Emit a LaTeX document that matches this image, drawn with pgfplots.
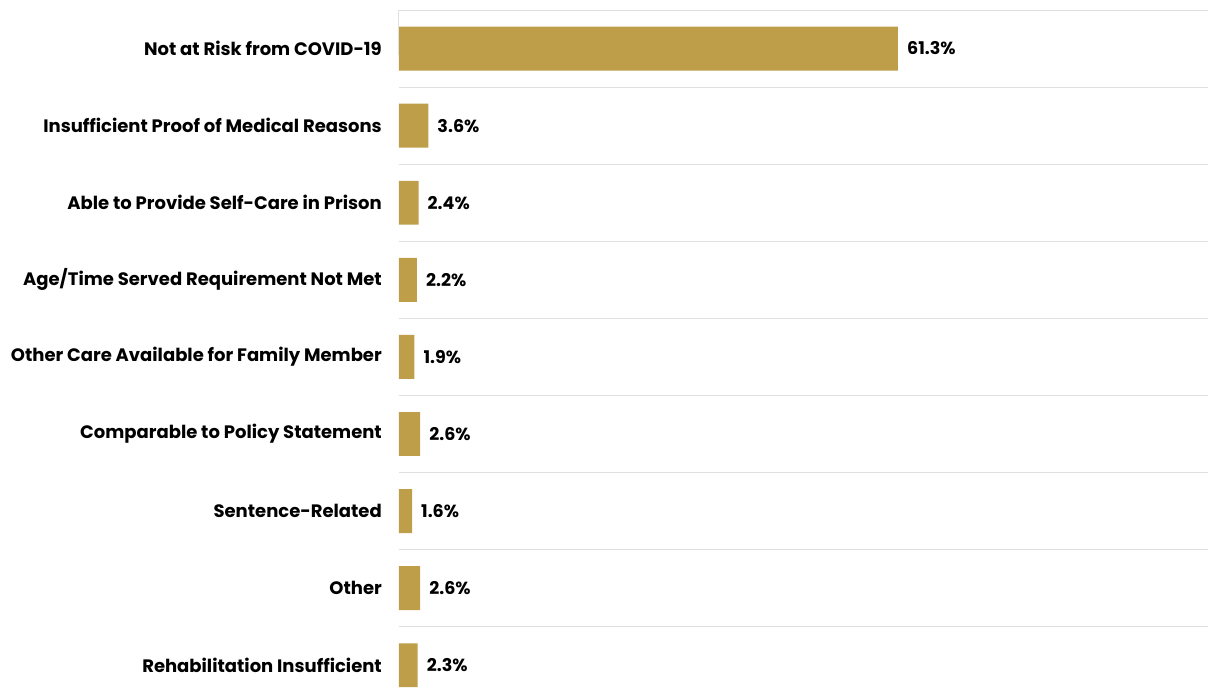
\documentclass[border=0pt]{standalone}
\usepackage{pgfplots}
\pgfplotsset{compat=1.18}
\usepackage{fontspec}
\setmainfont{Poppins}
\definecolor{gold}{HTML}{BF9E4A}
\definecolor{gridc}{HTML}{E0E0E0}
\begin{document}
\begin{tikzpicture}
\useasboundingbox (-399pt,0pt) rectangle (809pt,693pt);
\begin{axis}[
  at={(0pt,0pt)}, anchor=south west, scale only axis,
  width=809pt, height=683pt,
  xbar, xmin=0, xmax=99.4,
  y dir=reverse, ymin=-0.5, ymax=8.36,
  bar width=0.57,
  axis line style={draw=none},
  xtick=\empty,
  ytick={0,...,8},
  yticklabels={Not at Risk from COVID-19, Insufficient Proof of Medical Reasons, Able to Provide Self-Care in Prison, Age/Time Served Requirement Not Met, Other Care Available for Family Member, Comparable to Policy Statement, Sentence-Related, Other, Rehabilitation Insufficient},
  major tick length=0pt, minor tick length=0pt,
  minor ytick={-0.5,0.5,...,7.5},
  yminorgrids=true, ymajorgrids=false,
  minor grid style={draw=gridc, line width=1pt},
  /pgf/number format/assume math mode=true,
  yticklabel style={font=\bfseries\fontsize{18}{21}\selectfont, inner sep=0pt, xshift=-17pt, text=black},
  point meta=x,
  nodes near coords={\pgfmathprintnumber[fixed,fixed zerofill,precision=1]{\pgfplotspointmeta}\%},
  nodes near coords style={font=\bfseries\fontsize{17.5}{21}\selectfont, text=black, inner sep=0pt, xshift=9pt, anchor=west},
  clip=false,
]
\addplot[fill=gold, draw=none] coordinates {
(61.3,0) (3.6,1) (2.4,2) (2.2,3) (1.9,4) (2.6,5) (1.6,6) (2.6,7) (2.3,8)
};
\draw[gridc, line width=1pt] (axis cs:0,-0.5) -- ++(0,-6pt);
\end{axis}
\end{tikzpicture}
\end{document}
